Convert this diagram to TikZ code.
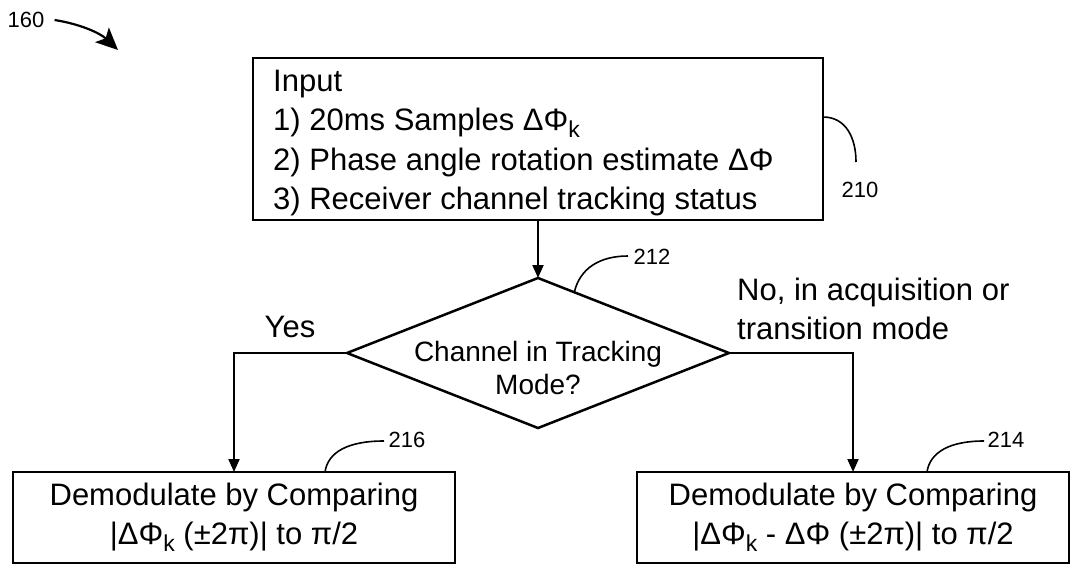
\documentclass[tikz,border=0pt]{standalone}
\usepackage{fontspec}
\setmainfont{Liberation Sans}
\usetikzlibrary{arrows.meta,shapes.geometric,calc}
\newcommand{\sbk}{\raisebox{-0.4ex}{\fontsize{23}{23}\selectfont k}}
\begin{document}
\begin{tikzpicture}[x=1pt,y=-1pt,
  box/.style={draw, line width=2.5pt, inner sep=0pt, outer sep=0pt},
  main/.style={font=\fontsize{31}{39}\selectfont},
  lbl/.style={font=\fontsize{22}{22}\selectfont, inner sep=0pt},
  conn/.style={line width=2pt, -{Triangle[length=13pt,width=11pt]}},
  lead/.style={line width=1.6pt}]
\useasboundingbox (0,0) rectangle (1071,565);

% input box
\node[box, minimum width=570pt, minimum height=162pt] (in) at (538,139) {};
\node[font=\fontsize{31}{39.5}\selectfont, align=left, anchor=west, inner sep=0pt] (intext) at (273,143)
  {Input\\1) 20ms Samples ΔΦ\sbk\\2) Phase angle rotation estimate ΔΦ\\3) Receiver channel tracking status};

% decision
\node[draw, diamond, line width=2.5pt, minimum width=382pt, minimum height=150pt, inner sep=0pt, outer sep=0pt] (dec) at (538,353) {};
\node[font=\fontsize{28}{33}\selectfont, align=center] (dect) at (538,368) {Channel in Tracking\\Mode?};

% branch labels
\node[main, anchor=base, inner sep=0pt] (yes) at (290,337) {Yes};
\node[main, align=left, anchor=north west, inner sep=0pt] (no) at (737,278) {No, in acquisition or\\transition mode};

% result boxes
\node[box, main, minimum width=442pt, minimum height=91pt, align=center] (yesb) at (234,517.5)
  {Demodulate by Comparing\\|ΔΦ\sbk{} (±2π)| to π/2};
\node[box, main, minimum width=432pt, minimum height=91pt, align=center] (nob) at (853,517.5)
  {Demodulate by Comparing\\|ΔΦ\sbk{} - ΔΦ (±2π)| to π/2};

% connectors
\draw[conn] (in.south) -- (dec.north);
\draw[conn] (dec.west) -| (yesb.north);
\draw[conn] (dec.east) -| (nob.north);

% reference labels
\node[lbl] (n160) at (26,20) {160};
\coordinate (t160) at (118,50);
\draw[line width=2.2pt, -{Stealth[length=22pt,width=20pt,inset=5pt]}] ([xshift=10pt]n160.east) .. controls (80,24) and (100,33) .. (t160);

\node[lbl] (n210) at (860,190) {210};
\coordinate (e210) at (856,162);
\draw[lead] ([yshift=22pt]in.east) .. controls (846,117) and (856,138) .. (e210);

\node[lbl] (n212) at (652,257) {212};
\coordinate (e212) at (628,256);
\draw[lead] ($(dec.north)!0.19!(dec.east)$) .. controls (580,268) and (600,256) .. (e212);

\node[lbl] (n214) at (1006,440) {214};
\coordinate (e214) at (984,441);
\draw[lead] ([xshift=74pt]nob.north) .. controls (930,452) and (950,441) .. (e214);

\node[lbl] (n216) at (407,440) {216};
\coordinate (e216) at (384,441);
\draw[lead] ([xshift=91pt]yesb.north) .. controls (328,452) and (348,441) .. (e216);
\end{tikzpicture}
\end{document}
